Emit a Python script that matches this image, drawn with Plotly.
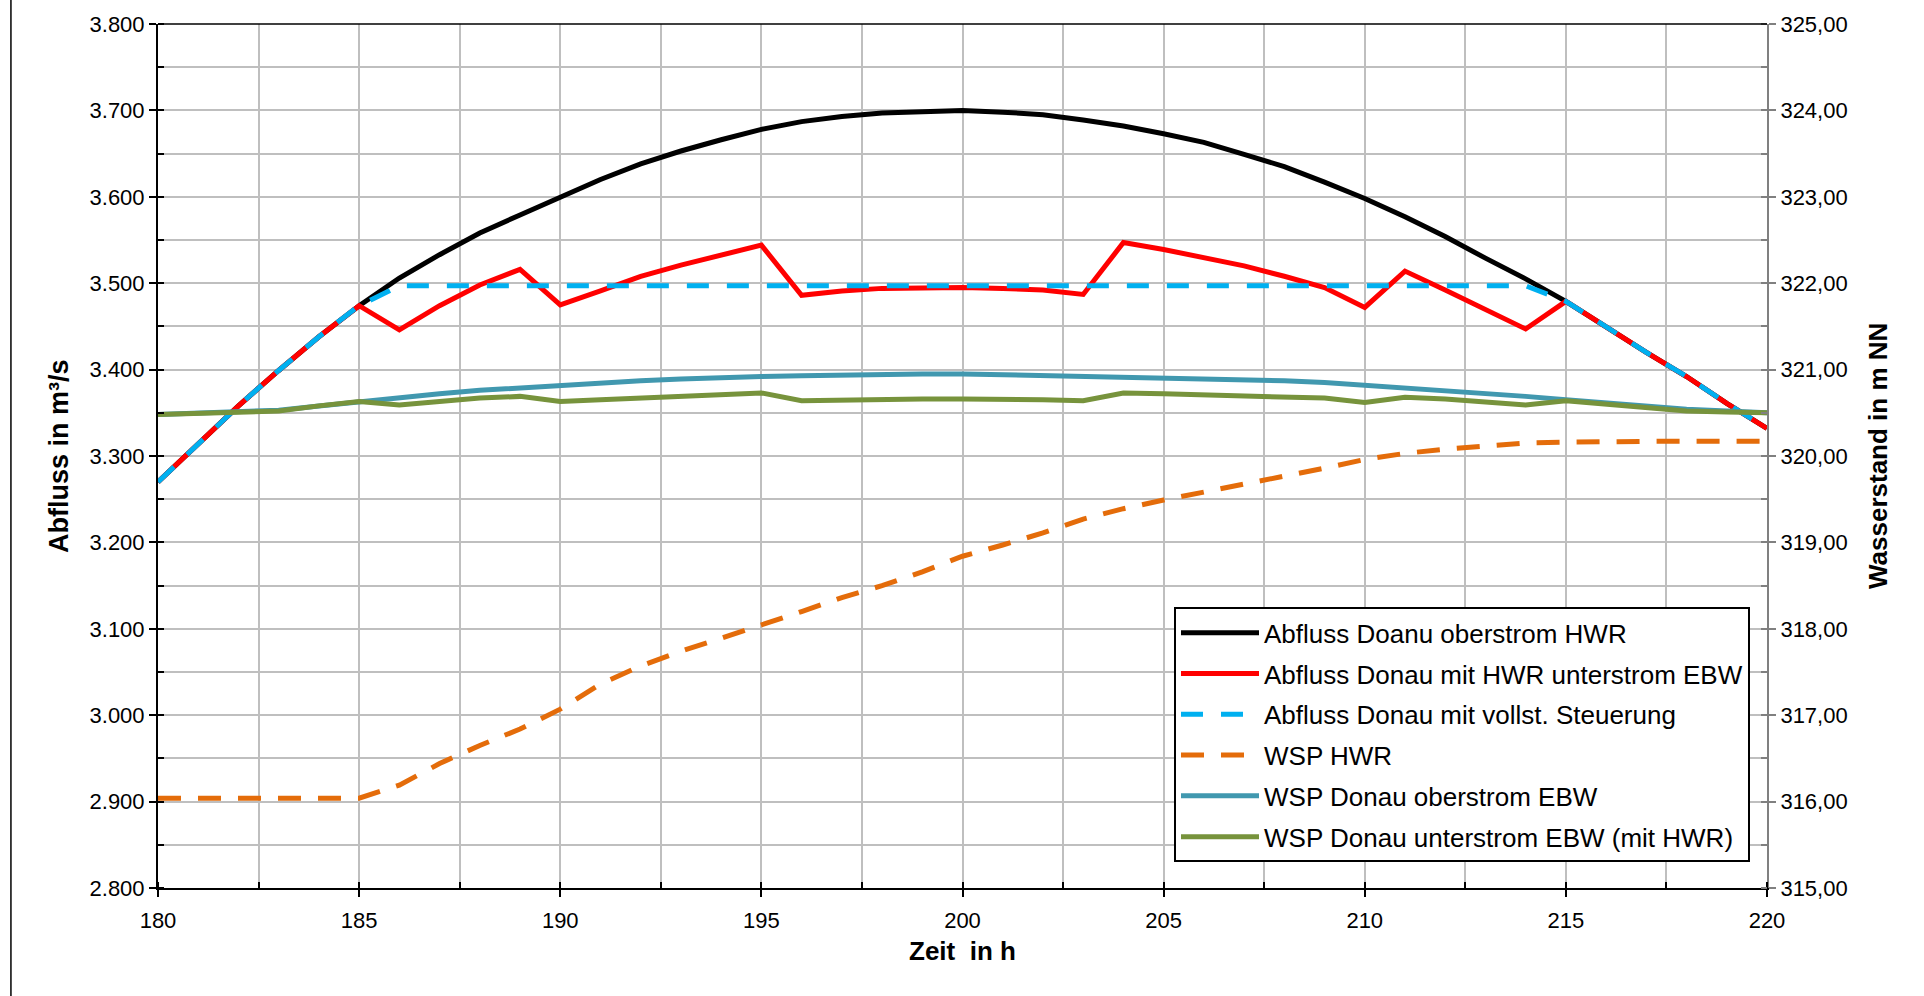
import plotly.graph_objects as go

# ---------------- data ----------------
hours = list(range(180, 221))

abfluss_oberstrom = [3270, 3315, 3358, 3399, 3438, 3474, 3506, 3533, 3558, 3579,
                     3600, 3620, 3638, 3653, 3666, 3678, 3687, 3693, 3697, 3699,
                     3700, 3698, 3695, 3689, 3682, 3673, 3663, 3649, 3635, 3617,
                     3598, 3577, 3554, 3529, 3505, 3479, 3449, 3420, 3392, 3361,
                     3332]

abfluss_hwr_unterstrom = [3270, 3315, 3358, 3399, 3438, 3474, 3446, 3474, 3498, 3516,
                          3475, 3491, 3508, 3521, 3533, 3544, 3486, 3491, 3494, 3495,
                          3495, 3494, 3492, 3487, 3547, 3539, 3530, 3520, 3508, 3495,
                          3472, 3514, 3492, 3469, 3447, 3479, 3449, 3420, 3392, 3361,
                          3332]

abfluss_vollst = [3270, 3315, 3358, 3399, 3438, 3474, 3497, 3497, 3497, 3497,
                  3497, 3497, 3497, 3497, 3497, 3497, 3497, 3497, 3497, 3497,
                  3497, 3497, 3497, 3497, 3497, 3497, 3497, 3497, 3497, 3497,
                  3497, 3497, 3497, 3497, 3497, 3479, 3449, 3420, 3392, 3361,
                  3332]

wsp_hwr = [316.04, 316.04, 316.04, 316.04, 316.04, 316.04, 316.19, 316.44, 316.65, 316.84,
           317.07, 317.36, 317.57, 317.74, 317.89, 318.04, 318.20, 318.36, 318.50, 318.66,
           318.84, 318.97, 319.11, 319.27, 319.39, 319.49, 319.58, 319.68, 319.76, 319.86,
           319.96, 320.03, 320.08, 320.11, 320.15, 320.16, 320.17, 320.17, 320.17, 320.17,
           320.17]

wsp_oberstrom = [320.48, 320.50, 320.51, 320.53, 320.58, 320.63, 320.68, 320.72, 320.76, 320.79,
                 320.81, 320.84, 320.87, 320.89, 320.91, 320.92, 320.93, 320.94, 320.95, 320.95,
                 320.95, 320.94, 320.93, 320.93, 320.92, 320.91, 320.90, 320.89, 320.87, 320.85,
                 320.82, 320.79, 320.76, 320.73, 320.69, 320.65, 320.61, 320.58, 320.54, 320.52,
                 320.50]

wsp_unterstrom = [320.48, 320.49, 320.50, 320.52, 320.58, 320.63, 320.59, 320.63, 320.67, 320.69,
                  320.63, 320.65, 320.67, 320.69, 320.71, 320.73, 320.64, 320.65, 320.66, 320.66,
                  320.66, 320.66, 320.65, 320.64, 320.73, 320.72, 320.71, 320.70, 320.68, 320.67,
                  320.62, 320.68, 320.66, 320.63, 320.59, 320.64, 320.60, 320.57, 320.52, 320.51,
                  320.50]

names = ["Abfluss Doanu oberstrom HWR",
         "Abfluss Donau mit HWR unterstrom EBW",
         "Abfluss Donau mit vollst. Steuerung",
         "WSP HWR",
         "WSP Donau oberstrom EBW",
         "WSP Donau unterstrom EBW (mit HWR)"]

title_left = "Abfluss in m³/s"
title_right = "Wasserstand in m NN"
title_x = "Zeit\u00a0 in h"

# ---------------- figure ----------------
FONT = "Liberation Sans, Arial, sans-serif"
GRID = "#BFBFBF"

fig = go.Figure()

series = [
    (abfluss_oberstrom, "y", "#000000", "solid", 5),
    (abfluss_hwr_unterstrom, "y", "#FF0000", "solid", 5),
    (abfluss_vollst, "y", "#00B0F0", "22px,18px", 5),
    (wsp_hwr, "y2", "#E46C0A", "23px,17px", 5),
    (wsp_oberstrom, "y2", "#4198AF", "solid", 5),
    (wsp_unterstrom, "y2", "#77933C", "solid", 5),
]

for i, (vals, ax, col, dash, w) in enumerate(series):
    fig.add_trace(go.Scatter(
        x=hours, y=vals, yaxis=ax, mode="lines", name=names[i],
        legendgroup=f"g{i}",
        line=dict(color=col, width=w, dash=dash),
        hoverinfo="skip",
    ))

fig.update_layout(
    width=1924, height=996,
    margin=dict(l=158, r=157, t=17, b=108, pad=0),
    paper_bgcolor="white", plot_bgcolor="white",
    separators=",.",
    font=dict(family=FONT, color="black", size=22),
    showlegend=True,
    legend=dict(
        x=(1174 - 158) / 1609, y=(888 - 605) / 871, xanchor="left", yanchor="top",
        bgcolor="white", bordercolor="black", borderwidth=2,
        font=dict(family=FONT, size=26, color="black"),
        tracegroupgap=4, itemwidth=78,
    ),
    xaxis=dict(
        range=[180, 220], tick0=180, dtick=5,
        showgrid=True, gridcolor=GRID, gridwidth=1.5,
        ticks="outside", ticklen=7, tickwidth=2, tickcolor="black",
        showline=True, linecolor="black", linewidth=2,
        zeroline=False, ticklabelstandoff=5,
        tickfont=dict(size=22),
        minor=dict(tick0=180, dtick=2.5, showgrid=True, gridcolor=GRID, gridwidth=1.5,
                   ticks="inside", ticklen=6, tickwidth=2, tickcolor="black"),
    ),
    yaxis=dict(
        range=[2800, 3800], tick0=2800, dtick=100, tickformat=",.0f",
        showgrid=True, gridcolor=GRID, gridwidth=1.5,
        ticks="outside", ticklen=7, tickwidth=2, tickcolor="black",
        showline=True, linecolor="black", linewidth=2,
        zeroline=False,
        tickfont=dict(size=22),
        minor=dict(tick0=2800, dtick=50, showgrid=True, gridcolor=GRID, gridwidth=1.5,
                   ticks="inside", ticklen=6, tickwidth=2, tickcolor="black"),
    ),
    yaxis2=dict(
        range=[315, 325], tick0=315, dtick=1, tickformat=".2f",
        overlaying="y", side="right",
        showgrid=False,
        ticks="outside", ticklen=7, tickwidth=2, tickcolor="#808080",
        showline=True, linecolor="#808080", linewidth=2,
        zeroline=False,
        tickfont=dict(size=22),
        minor=dict(tick0=315, dtick=0.5, showgrid=False,
                   ticks="inside", ticklen=6, tickwidth=2, tickcolor="#808080"),
    ),
    shapes=[
        dict(type="line", xref="paper", yref="paper", x0=0, x1=1, y0=1, y1=1,
             line=dict(color="black", width=1.5), layer="above"),
        dict(type="line", xref="paper", yref="paper", x0=-0.0914, x1=-0.0914,
             y0=-0.13, y1=1.03, line=dict(color="black", width=1.5)),
    ],
    annotations=[
        dict(text=title_left, xref="paper", yref="paper", x=(59 - 158) / 1609, y=0.5,
             xanchor="center", yanchor="middle", textangle=-90, showarrow=False,
             font=dict(family=FONT, size=27, color="black", weight="bold")),
        dict(text=title_right, xref="paper", yref="paper", x=(1878 - 158) / 1609, y=0.5,
             xanchor="center", yanchor="middle", textangle=-90, showarrow=False,
             font=dict(family=FONT, size=26, color="black", weight="bold")),
        dict(text=title_x, xref="paper", yref="paper", x=0.5, y=(888 - 952) / 871,
             xanchor="center", yanchor="middle", showarrow=False,
             font=dict(family=FONT, size=26, color="black", weight="bold")),
    ],
)

fig.write_html("out.html", config={"displayModeBar": False},
               post_script="document.body.style.margin='0';document.body.style.overflow='hidden';")
